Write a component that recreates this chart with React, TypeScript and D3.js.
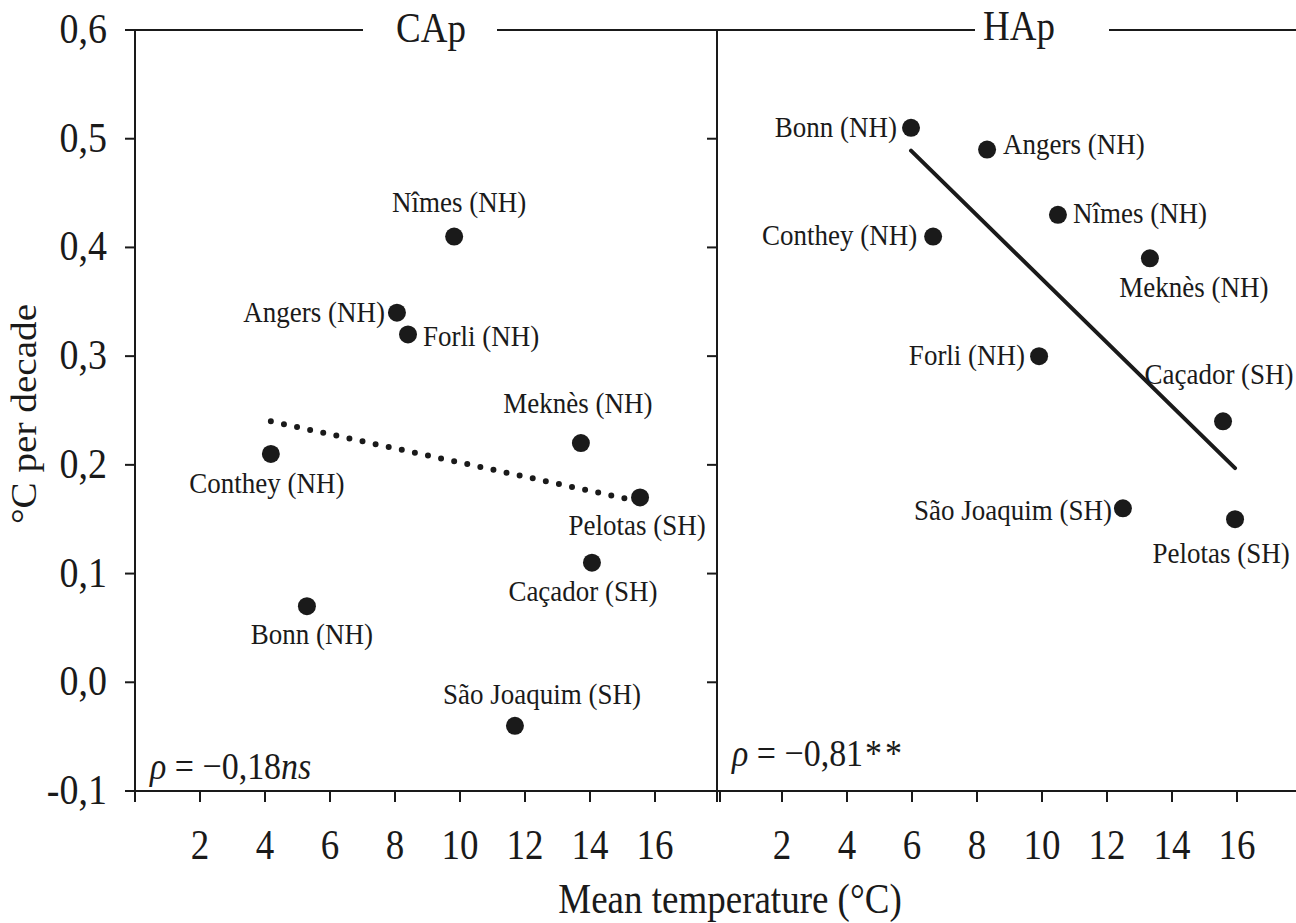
import React from "react";
import * as d3 from "d3";

// data: warming rate (°C per decade) vs mean temperature (°C)
const capSites = ["Nîmes (NH)", "Angers (NH)", "Forli (NH)", "Conthey (NH)", "Meknès (NH)", "Pelotas (SH)", "Caçador (SH)", "Bonn (NH)", "São Joaquim (SH)"];
const capTemp = [9.82, 8.06, 8.4, 4.18, 13.72, 15.54, 14.06, 5.29, 11.69];
const capRate = [0.41, 0.34, 0.32, 0.21, 0.22, 0.17, 0.11, 0.07, -0.04];
const capTrendTemp = [4.18, 15.4];
const capTrendRate = [0.24, 0.167];

const hapSites = ["Bonn (NH)", "Angers (NH)", "Nîmes (NH)", "Conthey (NH)", "Meknès (NH)", "Forli (NH)", "Caçador (SH)", "São Joaquim (SH)", "Pelotas (SH)"];
const hapTemp = [5.97, 8.31, 10.49, 6.65, 13.32, 9.91, 15.57, 12.49, 15.94];
const hapRate = [0.51, 0.49, 0.43, 0.41, 0.39, 0.3, 0.24, 0.16, 0.15];
const hapTrendTemp = [5.97, 15.94];
const hapTrendRate = [0.489, 0.197];

const yTicks = [0.6, 0.5, 0.4, 0.3, 0.2, 0.1, 0.0, -0.1];
const xTicks = [0, 2, 4, 6, 8, 10, 12, 14, 16, 18];
const xTickLabels = [2, 4, 6, 8, 10, 12, 14, 16];

// label placement around each point [dx, dy, anchor]
const capLabelPos: [number, number, string][] = [
  [5, -25, "middle"], [-12, 9, "end"], [15, 12, "start"], [-4, 39, "middle"], [-3, -30, "middle"],
  [-3, 38, "middle"], [-9, 38, "middle"], [5, 38, "middle"], [27, -22, "middle"],
];
const hapLabelPos: [number, number, string][] = [
  [-14, 9, "end"], [16, 4, "start"], [15, 8, "start"], [-16, 8, "end"], [44, 39, "middle"],
  [-14, 9, "end"], [-4, -37, "middle"], [-11, 12, "end"], [-14, 44, "middle"],
];

const FONT = "'Liberation Serif', 'Times New Roman', serif";
const SY = 1.12;
const INK = "#1a1a1a";

function T({ x, y, size, anchor = "start", rotate = 0, children }: any) {
  const tr = rotate ? `translate(${x},${y}) rotate(${rotate}) scale(${SY},1)` : `translate(${x},${y}) scale(1,${SY})`;
  return (
    <text transform={tr} textAnchor={anchor} fontSize={size} fontFamily={FONT} fill={INK}>
      {children}
    </text>
  );
}

export default function App() {
  const top = 30;
  const bottom = 791;
  const y = d3.scaleLinear().domain([0.6, -0.1]).range([top, bottom]);
  const xL = d3.scaleLinear().domain([0, 18]).range([135, 720]);
  const xR = d3.scaleLinear().domain([0, 18]).range([717, 1302]);
  const line = d3.line<[number, number]>();

  const panel = (x: d3.ScaleLinear<number, number>, sites: string[], temp: number[], rate: number[], pos: [number, number, string][]) => (
    <g>
      {/* left axis with ticks */}
      <line x1={x(0)} x2={x(0)} y1={top} y2={bottom + 10} stroke={INK} strokeWidth={2} />
      {yTicks.map((t) => (
        <line key={t} x1={x(0) - 10} x2={x(0)} y1={y(t)} y2={y(t)} stroke={INK} strokeWidth={2} />
      ))}
      {xTicks.map((t) => (
        <line key={t} x1={x(t)} x2={x(t)} y1={bottom} y2={bottom + 11} stroke={INK} strokeWidth={2} />
      ))}
      {xTickLabels.map((t) => (
        <T key={t} x={x(t)} y={859} size={37} anchor="middle">{t}</T>
      ))}
      {sites.map((s, i) => (
        <g key={s}>
          <circle cx={x(temp[i])} cy={y(rate[i])} r={9} fill={INK} />
          <T x={x(temp[i]) + pos[i][0]} y={y(rate[i]) + pos[i][1]} size={27} anchor={pos[i][2]}>{s}</T>
        </g>
      ))}
    </g>
  );

  return (
    <svg width={1296} height={923} style={{ position: "absolute", left: 0, top: 0, background: "#fff" }}>
      <rect width={1296} height={923} fill="#fff" />
      {/* frame lines */}
      <line x1={126} x2={1296} y1={bottom} y2={bottom} stroke={INK} strokeWidth={2} />
      <line x1={126} x2={363} y1={top} y2={top} stroke={INK} strokeWidth={2} />
      <line x1={497} x2={975} y1={top} y2={top} stroke={INK} strokeWidth={2} />
      <line x1={1109} x2={1296} y1={top} y2={top} stroke={INK} strokeWidth={2} />

      {panel(xL, capSites, capTemp, capRate, capLabelPos)}
      {panel(xR, hapSites, hapTemp, hapRate, hapLabelPos)}

      {/* trend lines */}
      <path
        d={line(capTrendTemp.map((t, i) => [xL(t), y(capTrendRate[i])]) as any) || ""}
        stroke={INK} strokeWidth={6} strokeLinecap="round" strokeDasharray="0 13.4" fill="none"
      />
      <path
        d={line(hapTrendTemp.map((t, i) => [xR(t), y(hapTrendRate[i])]) as any) || ""}
        stroke={INK} strokeWidth={4} strokeLinecap="round" fill="none"
      />

      {/* y tick labels */}
      {yTicks.map((t) => (
        <T key={t} x={107} y={y(t) + 13} size={38} anchor="end">
          {(t < 0 ? "-" : "") + Math.abs(t).toFixed(1).replace(".", ",")}
        </T>
      ))}

      {/* panel titles */}
      <T x={431} y={42} size={37} anchor="middle">CAp</T>
      <T x={1019} y={40} size={37} anchor="middle">HAp</T>

      {/* correlation annotations */}
      <T x={150} y={779} size={34}>
        <tspan fontStyle="italic">ρ</tspan> = −0,18<tspan fontStyle="italic">ns</tspan>
      </T>
      <T x={732} y={766} size={34}>
        <tspan fontStyle="italic">ρ</tspan> = −0,81<tspan dx={2}>*</tspan><tspan dx={3}>*</tspan>
      </T>

      {/* axis titles */}
      <T x={730} y={913} size={37} anchor="middle">Mean temperature (°C)</T>
      <T x={36} y={414} size={35} anchor="middle" rotate={-90}>°C per decade</T>
    </svg>
  );
}
